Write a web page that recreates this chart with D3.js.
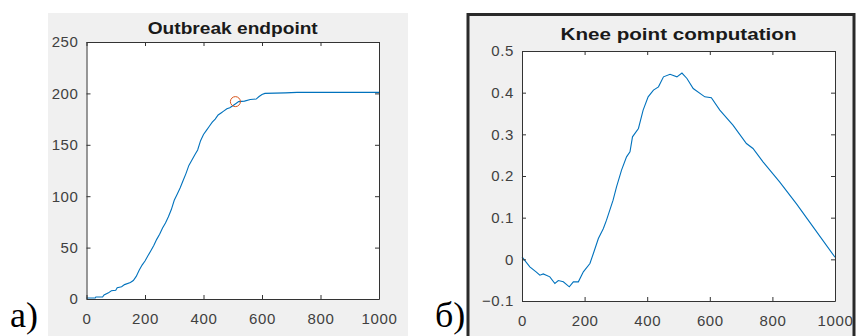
<!DOCTYPE html>
<html>
<head>
<meta charset="utf-8">
<script src="https://cdn.jsdelivr.net/npm/d3@7"></script>
<style>
  body { margin: 0; background: #fff; }
  svg { display: block; }
  .tick text { font-family: "Liberation Sans", Arial, sans-serif; font-size: 15px; letter-spacing: 0.6px; fill: #404040; }
  .domain, .tick line { stroke: #333; }
</style>
</head>
<body>
<svg id="chart" width="856" height="336"></svg>
<script>
// outbreak curve (cumulative cases)
const outbreakX = [0, 30, 32, 55, 60, 75, 85, 100, 105, 120, 130, 150, 160, 170, 180, 190, 200, 210, 220, 230,
  240, 250, 260, 270, 280, 290, 300, 310, 320, 330, 340, 350, 360, 370, 380, 390, 400, 410, 420, 430,
  440, 450, 460, 470, 480, 490, 500, 510, 520, 540, 560, 580, 590, 600, 610, 680, 720, 1000];
const outbreakY = [1, 1, 2, 2, 4, 6, 8, 8.5, 11, 12, 14, 16, 18, 22, 28, 33, 37, 42, 47, 52,
  58, 63, 69, 74, 80, 87, 96, 102, 108, 115, 122, 130, 135, 140, 145, 154, 160, 164, 168, 172,
  175, 179, 181, 183, 185, 186, 188, 190, 192, 192.5, 194, 194.5, 197, 199, 200, 200.5, 201, 201];
const kneeX = 509, kneeY = 192;

// knee point computation curve
const kneeCurveX = [0, 25, 45, 57, 68, 89, 105, 116, 132, 151, 164, 180, 196, 217, 228, 244, 260, 270, 291, 302,
  318, 334, 345, 353, 372, 387, 403, 420, 436, 452, 473, 495, 511, 527, 547, 584, 605, 632, 674, 717,
  738, 770, 823, 877, 930, 1000];
const kneeCurveY = [0.006, -0.018, -0.03, -0.038, -0.035, -0.042, -0.058, -0.051, -0.054, -0.066, -0.054, -0.054, -0.03, -0.01, 0.014, 0.05, 0.074, 0.094, 0.142, 0.174,
  0.214, 0.246, 0.258, 0.294, 0.314, 0.358, 0.39, 0.406, 0.414, 0.438, 0.444, 0.438, 0.447, 0.434, 0.41, 0.39, 0.388, 0.358, 0.322, 0.278,
  0.266, 0.234, 0.186, 0.133, 0.078, 0.005];

const xTicks = [0, 200, 400, 600, 800, 1000];
const leftYTicks = [0, 50, 100, 150, 200, 250];
const rightYTicks = [-0.1, 0, 0.1, 0.2, 0.3, 0.4, 0.5];

const svg = d3.select('#chart');

// figure backgrounds
svg.append('rect').attr('x', 48).attr('y', 13).attr('width', 360).attr('height', 330).attr('fill', '#f0f0f0');
svg.append('rect').attr('x', 468).attr('y', 14.5).attr('width', 386).attr('height', 330)
  .attr('fill', '#f0f0f0').attr('stroke', '#2a2a2a').attr('stroke-width', 3);

function drawPanel(opts) {
  const { left, right, top, bottom, yDomain, yTicks, yFormat, xs, ys, title, titleY, titleWidth } = opts;
  const x = d3.scaleLinear().domain([0, 1000]).range([left, right]);
  const y = d3.scaleLinear().domain(yDomain).range([bottom, top]);

  svg.append('rect').attr('x', left).attr('y', top)
    .attr('width', right - left).attr('height', bottom - top).attr('fill', '#fff');

  const line = d3.line().x(i => x(xs[i])).y(i => y(ys[i]));
  svg.append('path')
    .attr('d', line(d3.range(xs.length)))
    .attr('fill', 'none').attr('stroke', '#0072BD').attr('stroke-width', 1.1);

  svg.append('g').attr('transform', `translate(0,${bottom})`)
    .call(d3.axisBottom(x).tickValues(xTicks).tickSize(-4).tickSizeOuter(0).tickPadding(14).tickFormat(d3.format('d')));
  svg.append('g').attr('transform', `translate(0,${top})`)
    .call(d3.axisTop(x).tickValues(xTicks).tickSize(-4).tickSizeOuter(0).tickFormat(''));
  svg.append('g').attr('transform', `translate(${left},0)`)
    .call(d3.axisLeft(y).tickValues(yTicks).tickSize(-4).tickSizeOuter(0).tickPadding(8).tickFormat(yFormat));
  svg.append('g').attr('transform', `translate(${right},0)`)
    .call(d3.axisRight(y).tickValues(yTicks).tickSize(-4).tickSizeOuter(0).tickFormat(''));

  svg.append('text')
    .attr('x', (left + right) / 2 - titleWidth / 2).attr('y', titleY)
    .attr('textLength', titleWidth).attr('lengthAdjust', 'spacingAndGlyphs')
    .style('font-family', '"Liberation Sans", Arial, sans-serif')
    .style('font-size', '16px').style('font-weight', 'bold').style('fill', '#1a1a1a')
    .text(title);

  return { x, y };
}

const a = drawPanel({
  left: 86.5, right: 379, top: 42, bottom: 299,
  yDomain: [0, 250], yTicks: leftYTicks, yFormat: d3.format('d'),
  xs: outbreakX, ys: outbreakY,
  title: 'Outbreak endpoint', titleY: 34, titleWidth: 170
});

svg.append('circle')
  .attr('cx', a.x(kneeX)).attr('cy', a.y(kneeY)).attr('r', 5)
  .attr('fill', 'none').attr('stroke', '#D95319').attr('stroke-width', 1);

drawPanel({
  left: 522, right: 835, top: 51, bottom: 301,
  yDomain: [-0.1, 0.5], yTicks: rightYTicks, yFormat: d => d === 0 ? '0' : d3.format('.1f')(d),
  xs: kneeCurveX, ys: kneeCurveY,
  title: 'Knee point computation', titleY: 40, titleWidth: 236
});

// panel letters
svg.append('text').attr('x', 10).attr('y', 327)
  .style('font-family', '"Liberation Serif", "Times New Roman", serif').style('font-size', '36px')
  .text('a)');
svg.append('text').attr('x', 435).attr('y', 327)
  .style('font-family', '"Liberation Serif", "Times New Roman", serif').style('font-size', '36px')
  .text('б)');
</script>
</body>
</html>
